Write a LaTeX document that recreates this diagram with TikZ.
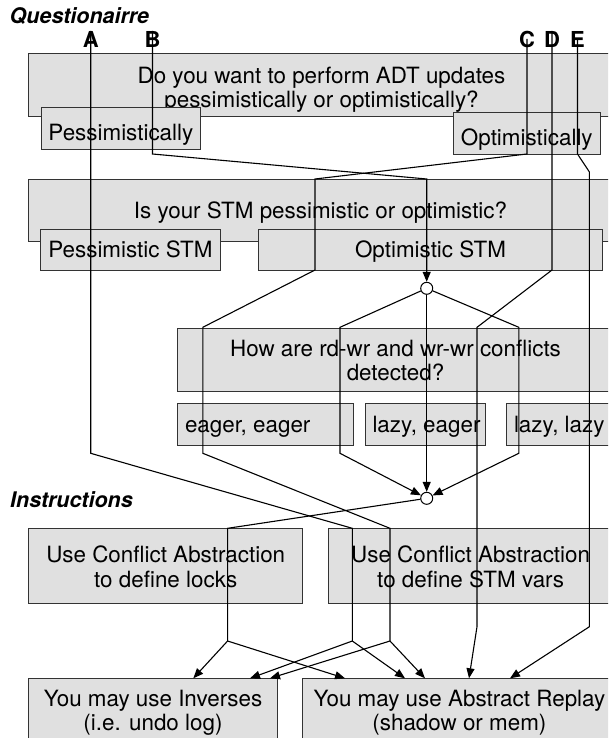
\documentclass[tikz,border=0pt]{standalone}
\usepackage{fontspec}
\setmainfont{TeX Gyre Heros}
\usetikzlibrary{arrows.meta}
% one or two lines of box text, smashed so that text height / text depth place the first baseline
\newcommand{\oneln}[1]{\smash{#1}}
\newcommand{\twoln}[3]{{\fontsize{22.4}{#1}\selectfont\smash{\begin{tabular}[t]{@{}c@{}}#2\\#3\end{tabular}}}}
\newcommand{\leftln}[2]{\makebox[#1][l]{\hspace{7.5pt}\smash{#2}}}
\begin{document}
\begin{tikzpicture}[x=1pt,y=-1pt,
  box/.style={draw=black!80, fill=black!12, line width=1pt, inner sep=0pt,
    font=\fontsize{22.4}{24.5}\selectfont, anchor=north west},
  conn/.style={line width=1.1pt, black},
  arr/.style={conn, -{Triangle[length=10pt,width=8pt]}},
  lbl/.style={font=\fontsize{22}{24}\selectfont\bfseries, inner sep=0pt},
  head/.style={font=\fontsize{21.5}{24}\selectfont\bfseries\itshape, inner sep=0pt, anchor=base west},
  dot/.style={circle, draw, fill=white, line width=1pt, minimum size=12pt, inner sep=0pt}
]
\useasboundingbox (0,0) rectangle (608,738);
\clip (0,0) rectangle (608,738);

% headings
\node[head] (hq) at (9.5,23.3) {Questionairre};
\node[head] (hi) at (10,507.3) {Instructions};

% question 1
\node[box, minimum width=586pt, minimum height=62.7pt, text depth=2.7pt] (q1) at (28,53.3)
  {\twoln{23.4pt}{Do you want to perform ADT updates}{pessimistically or optimistically?}};
\node[box, minimum width=159.3pt, minimum height=41.7pt, text height=23.7pt] (pess) at (40.7,107.3)
  {\oneln{Pessimistically}};
\node[box, minimum width=147.5pt, minimum height=41.7pt, text height=23.7pt] (opt) at (452.5,112.3)
  {\oneln{Optimistically}};

% question 2
\node[box, minimum width=584pt, minimum height=62pt, text height=16.6pt] (q2) at (28,179)
  {\oneln{Is your STM pessimistic or optimistic?}};
\node[box, minimum width=179.2pt, minimum height=41.3pt, text height=15.9pt] (pstm) at (40.3,228.7)
  {\oneln{Pessimistic STM}};
\node[box, minimum width=344pt, minimum height=41.3pt, text height=15.9pt] (ostm) at (258,228.7)
  {\oneln{Optimistic STM}};

% question 3
\node[box, minimum width=436pt, minimum height=62.4pt, text depth=7pt] (q3) at (177,328.3)
  {\twoln{24pt}{How are rd-wr and wr-wr conflicts}{detected?}};
\node[box, minimum width=175.8pt, minimum height=41.7pt, text height=15.1pt] (ee) at (177,403.3)
  {\leftln{175.8pt}{eager, eager}};
\node[box, minimum width=120.2pt, minimum height=41.7pt, text height=15.1pt] (le) at (364.5,403.3)
  {\leftln{120.2pt}{lazy, eager}};
\node[box, minimum width=140pt, minimum height=41.7pt, text height=15.1pt] (ll) at (506,403.3)
  {\leftln{140pt}{lazy, lazy}};

% instructions
\node[box, minimum width=274.4pt, minimum height=75pt, text depth=8.2pt] (locks) at (28,528.3)
  {\twoln{25pt}{Use Conflict Abstraction}{to define locks}};
\node[box, minimum width=285pt, minimum height=75pt, text depth=8.2pt] (stmv) at (327.6,528.3)
  {\twoln{25pt}{Use Conflict Abstraction}{to define STM vars}};
\node[box, minimum width=249pt, minimum height=65pt, text depth=9.6pt] (inv) at (28,678.3)
  {\twoln{24pt}{You may use Inverses}{(i.e. undo log)}};
\node[box, minimum width=313pt, minimum height=65pt, text depth=9.6pt] (ar) at (302.4,678.3)
  {\twoln{24pt}{You may use Abstract Replay}{(shadow or mem)}};

% junctions
\node[dot] (c1) at (426.7,288.3) {};
\node[dot] (c2) at (426.7,498.3) {};

% labels
\node[lbl] (A) at (90.7,39) {A};
\node[lbl] (B) at (152.5,39) {B};
\node[lbl] (C) at (527,39) {C};
\node[lbl] (D) at (552,39) {D};
\node[lbl] (E) at (577.5,39) {E};

% connectors
\draw[conn] (A.north) -- (90.7,453.3) -- (352.3,528.3) -- (352.3,641) coordinate (aS);
\draw[arr] (aS) -- (250,678.3);
\draw[arr] (aS) -- (405,678.3);

\draw[arr] (B.north) -- (152.5,154) -- (426.7,179) -- (c1);

\draw[conn] (C.center) -- (527,154) -- (315,179) -- (315,270) -- (202.8,327.3)
  -- (202.8,453.3) -- (390,528.3) -- (390,641) coordinate (cS);
\draw[arr] (cS) -- (270,678.3);
\draw[arr] (cS) -- (425,678.3);

\draw[arr] (D.north) -- (552,270) -- (477,327.3) -- (477,626.7) -- (469,678.3);

\draw[arr] (E.center) -- (577.5,154) -- (589.4,172) -- (589.4,626.7) -- (510,678.3);

\draw[arr] (c1) -- (340,327.3) -- (340,453.3) -- (c2);
\draw[arr] (c1) -- (c2);
\draw[arr] (c1) -- (518.8,327.3) -- (518.8,453.3) -- (c2);

\draw[conn] (c2) -- (227.6,528.3) -- (227.6,641) coordinate (lS);
\draw[arr] (lS) -- (193.3,678.3);
\draw[arr] (lS) -- (345,678.3);
\end{tikzpicture}
\end{document}
